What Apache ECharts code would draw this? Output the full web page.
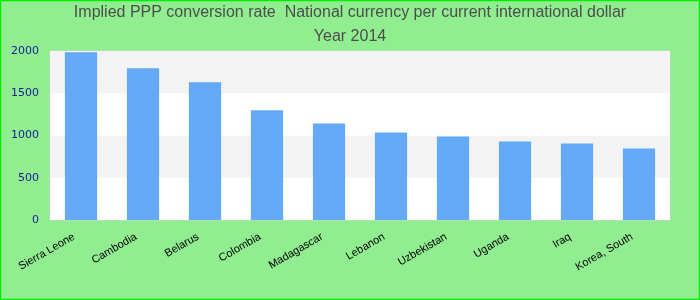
<!DOCTYPE html>
<html>
<head>
<meta charset="utf-8">
<script src="https://cdn.jsdelivr.net/npm/echarts@6/dist/echarts.min.js"></script>
<style>
  html, body { margin: 0; padding: 0; }
  #chart { width: 700px; height: 300px; }
</style>
</head>
<body>
<div id="chart"></div>
<script>
const countries = ['Sierra Leone', 'Cambodia', 'Belarus', 'Colombia', 'Madagascar',
  'Lebanon', 'Uzbekistan', 'Uganda', 'Iraq', 'Korea, South']
const values = [1985, 1795, 1630, 1298, 1143, 1036, 988, 929, 905, 845]
const yTicks = [0, 500, 1000, 1500, 2000]

const chart = echarts.init(document.getElementById('chart'))
chart.setOption({
  backgroundColor: '#90ee90',
  title: {
    text: 'Implied PPP conversion rate  National currency per current international dollar\nYear 2014',
    left: 'center',
    top: 1,
    padding: 0,
    textStyle: {
      fontFamily: 'Liberation Sans',
      fontSize: 16,
      fontWeight: 'normal',
      color: '#4d4d4d',
      lineHeight: 24
    }
  },
  graphic: [{
    type: 'rect',
    shape: { x: 0.5, y: 0.5, width: 699, height: 299 },
    style: { fill: 'none', stroke: '#00ee00', lineWidth: 1.5 },
    z: 100
  }],
  grid: {
    left: 50,
    right: 30,
    top: 51,
    bottom: 80,
    show: true,
    borderColor: '#d0d0d0',
    borderWidth: 1,
    backgroundColor: '#fff'
  },
  xAxis: {
    type: 'category',
    data: countries,
    axisLine: { show: false },
    axisTick: { show: false },
    axisLabel: {
      rotate: 30,
      interval: 0,
      margin: 12,
      padding: [0, 8, 0, 0],
      fontFamily: 'Liberation Sans',
      fontSize: 11,
      color: '#000'
    }
  },
  yAxis: {
    type: 'value',
    min: yTicks[0],
    max: yTicks[yTicks.length - 1],
    interval: 500,
    axisLine: { show: false },
    axisTick: { show: false },
    splitLine: { show: false },
    splitArea: {
      show: true,
      areaStyle: { color: ['#ffffff', '#f3f3f3'] }
    },
    axisLabel: {
      margin: 11,
      fontFamily: 'DejaVu Sans',
      fontSize: 11,
      color: '#1a1a99',
      formatter: v => String(v)
    }
  },
  series: [{
    type: 'bar',
    data: values,
    barWidth: '52%',
    itemStyle: { color: '#63a9f5' }
  }]
})
</script>
</body>
</html>
